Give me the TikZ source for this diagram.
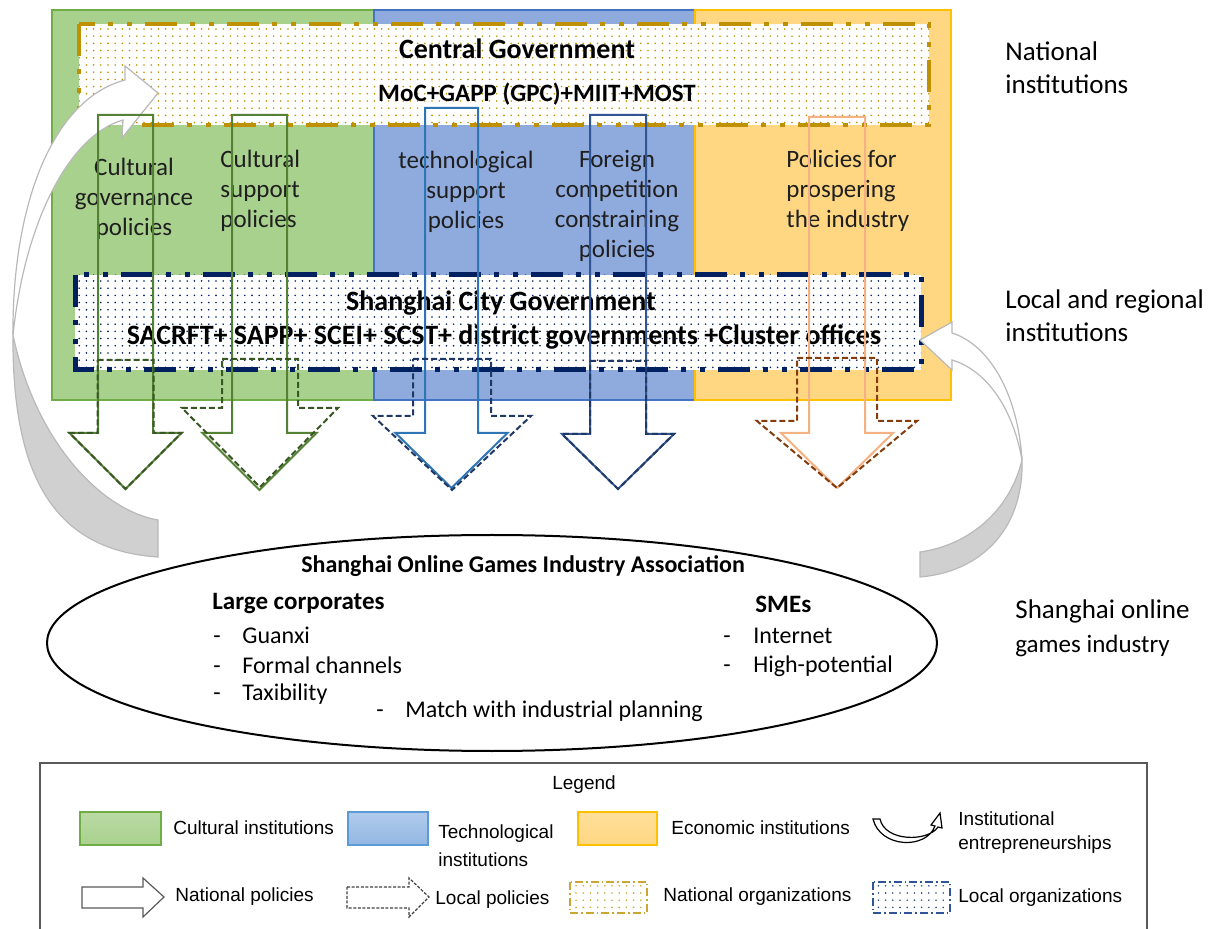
\documentclass[tikz,border=0pt]{standalone}
\usepackage{fontspec}
\setmainfont{Carlito}
\newfontfamily\legendfont{Liberation Sans}
\usetikzlibrary{shapes.geometric, patterns.meta}

\definecolor{cultfill}{RGB}{169,209,142}
\definecolor{cultline}{RGB}{112,173,71}
\definecolor{techfill}{RGB}{143,170,220}
\definecolor{techline}{RGB}{68,114,196}
\definecolor{econfill}{RGB}{255,215,130}
\definecolor{econline}{RGB}{255,192,0}
\definecolor{natgold}{RGB}{191,144,0}
\definecolor{locnavy}{RGB}{0,32,96}
\definecolor{arrgreen}{RGB}{84,130,53}
\definecolor{arrdkgreen}{RGB}{56,87,35}
\definecolor{arrblue}{RGB}{46,117,182}
\definecolor{arrnavy}{RGB}{47,85,151}
\definecolor{arrdknavy}{RGB}{32,56,100}
\definecolor{arrsalmon}{RGB}{244,177,131}
\definecolor{arrbrown}{RGB}{132,60,12}
\definecolor{entgrey}{RGB}{185,185,185}
\definecolor{entfill}{RGB}{208,208,208}
\definecolor{legbluetop}{RGB}{178,203,236}
\definecolor{legbluebot}{RGB}{146,183,226}
\definecolor{legblueline}{RGB}{91,155,213}

% block arrow pointing down: [style]{x}{top}{shaft half}{head y}{head half}{tip y}
\newcommand{\blockarrow}[7][]{%
  \draw[#1] (#2-#4,#3) -- (#2+#4,#3) -- (#2+#4,#5) -- (#2+#6,#5) -- (#2,#7)
    -- (#2-#6,#5) -- (#2-#4,#5) -- cycle;}

\begin{document}
\begin{tikzpicture}[x=0.5pt, y=-0.5pt,
    column/.style = {line width=0.6pt},
    govbox/.style = {line width=2pt, preaction={fill=white},
      dash pattern=on 16pt off 6.5pt on 2.5pt off 7pt on 2.5pt off 6.5pt},
    dotfill/.style = {pattern={Dots[radius=0.45pt, distance=3.6pt]}},
    title/.style = {font=\fontsize{14}{17}\selectfont\bfseries, inner sep=0},
    coltext/.style = {font=\fontsize{12.5}{15}\selectfont, text=black!88, inner sep=0},
    sidelabel/.style = {font=\fontsize{13.5}{16.5}\selectfont, align=left, anchor=west, inner sep=0},
    item/.style = {font=\fontsize{12}{14}\selectfont, anchor=west, inner sep=0},
    legtext/.style = {font=\legendfont\fontsize{9.5}{14}\selectfont, anchor=west, align=left, inner sep=0},
    natpolicy/.style = {line width=1pt},
    locpolicy/.style = {line width=1pt, dash pattern=on 3pt off 1.5pt},
    entarrow/.style = {draw=entgrey, line width=0.6pt}]
\useasboundingbox (0,0) rectangle (1220,929);

% Institutions columns
\draw[column, draw=cultline, fill=cultfill] (52,10) rectangle (374,400);
\draw[column, draw=techline, fill=techfill] (374,10) rectangle (695,400);
\draw[column, draw=econline, fill=econfill] (695,10) rectangle (951,400);

% Organizations
\draw[govbox, draw=natgold, dotfill, pattern color=natgold]
  (79,24) rectangle (929,125);
\draw[govbox, line width=2.5pt, draw=locnavy, dotfill, pattern color=locnavy]
  (75,275) rectangle (921,370);

% Institutional entrepreneurships
\draw[entarrow, fill=white] (13,335) .. controls (12,210) and (50,100) .. (125,80) -- (125,66)
  -- (158,93) -- (122,138) -- (123,120) .. controls (70,135) and (25,220) .. (13,335) -- cycle;
\draw[entarrow, fill=entfill] (13,335) .. controls (12,470) and (50,550) .. (158,557) -- (158,520)
  .. controls (100,510) and (35,440) .. (13,335) -- cycle;
\draw[entarrow, fill=white] (1022,460) .. controls (1018,395) and (990,345) .. (952,333) -- (952,322)
  -- (920,340) -- (952,370) -- (952,360) .. controls (985,370) and (1012,405) .. (1022,460) -- cycle;
\draw[entarrow, fill=entfill] (1022,460) .. controls (1024,530) and (980,572) .. (920,577) -- (920,552)
  .. controls (970,545) and (1010,510) .. (1022,460) -- cycle;

% Texts
\node[title] (central) at (517,49) {Central Government};
\node[title, font=\fontsize{12.5}{15}\selectfont\bfseries] (ministries) at (537,94) {MoC+GAPP (GPC)+MIIT+MOST};
\node[coltext, align=center] (cultgov) at (134,199) {Cultural\\governance\\policies};
\node[coltext, align=left, anchor=west] (cultsup) at (220,191) {Cultural\\support\\policies};
\node[coltext, align=center] (techsup) at (466,192) {technological\\support\\policies};
\node[coltext, align=center] (foreign) at (617,206) {Foreign\\competition\\constraining\\policies};
\node[coltext, align=left, anchor=west] (prosper) at (786,191) {Policies for\\prospering\\the industry};
\node[title] (city) at (501,303) {Shanghai City Government};
\node[title] (cityorgs) at (504,337) {SACRFT+ SAPP+ SCEI+ SCST+ district governments +Cluster offices};

\node[sidelabel] (national) at (1005,68) {National\\institutions};
\node[sidelabel] (local) at (1005,316) {Local and regional\\institutions};
\node[sidelabel] (industryA) at (1015,611) {Shanghai online};
\node[sidelabel, font=\fontsize{12.5}{15}\selectfont] (industryB) at (1015,646) {games industry};

% National policies
\blockarrow[natpolicy, draw=arrgreen]{125.5}{115}{27.5}{433}{56}{489}
\blockarrow[natpolicy, draw=arrgreen]{259.5}{115}{27.5}{433}{57}{490}
\blockarrow[natpolicy, draw=arrblue]{451.5}{108}{26.5}{433}{56}{488}
\blockarrow[natpolicy, draw=arrnavy]{618}{115}{28}{434}{56}{489}
\blockarrow[natpolicy, draw=arrsalmon]{837}{117}{28}{433}{56}{488}

% Local policies
\blockarrow[locpolicy, draw=arrdkgreen]{125.5}{360}{28}{433}{56}{489}
\blockarrow[locpolicy, draw=arrdkgreen]{260}{359}{38}{408}{78}{487}
\blockarrow[locpolicy, draw=arrdknavy]{452}{359}{39}{416}{79}{490}
\blockarrow[locpolicy, draw=arrdknavy]{618}{361}{28}{434}{56}{489}
\blockarrow[locpolicy, draw=arrbrown]{837}{358}{40}{421}{80}{488}

% Shanghai online games industry
\node[draw, ellipse, line width=1pt, minimum width=445pt, minimum height=108pt] (industry) at (492,643) {};
\node[title, font=\fontsize{12}{14}\selectfont\bfseries] (association) at (523,566) {Shanghai Online Games Industry Association};
\node[item, font=\fontsize{12.5}{14}\selectfont\bfseries] (large) at (212,604) {Large corporates};
\node[item] (guanxi) at (213,635) {\makebox[14.5pt][l]{-}Guanxi};
\node[item] (formal) at (213,665) {\makebox[14.5pt][l]{-}Formal channels};
\node[item] (tax) at (213,694) {\makebox[14.5pt][l]{-}Taxibility};
\node[item] (match) at (376,711) {\makebox[14.5pt][l]{-}Match with industrial planning};
\node[item, font=\fontsize{12.5}{14}\selectfont\bfseries] (smes) at (755,604) {SMEs};
\node[item] (internet) at (723,636) {\makebox[15pt][l]{-}Internet};
\node[item] (potential) at (723,666) {\makebox[15pt][l]{-}High-potential};

% Legend
\draw[line width=0.8pt, draw=black!65] (40,935) -- (40,763) -- (1147,763) -- (1147,935);
\node[legtext, anchor=center] (legend) at (584,785) {Legend};
\shade[top color=cultfill!80!white, bottom color=cultfill] (80,812) rectangle (161,845);
\draw[column, draw=cultline] (80,812) rectangle (161,845);
\node[legtext] (legcult) at (173,828) {Cultural institutions};
\shade[top color=legbluetop, bottom color=legbluebot] (348,812) rectangle (428,845);
\draw[column, draw=legblueline] (348,812) rectangle (428,845);
\node[legtext] (legtech) at (438,846) {Technological\\institutions};
\shade[top color=econfill!80!white, bottom color=econfill] (578,812) rectangle (657,845);
\draw[column, draw=econline] (578,812) rectangle (657,845);
\node[legtext] (legecon) at (671,828) {Economic institutions};
\draw[line width=0.6pt, fill=white] (873,819) .. controls (880,848) and (926,850) .. (935,826)
  -- (931,825) -- (940,813) -- (942,828) -- (938,827) .. controls (928,842) and (885,842) .. (880,819) -- cycle;
\node[legtext, font=\legendfont\fontsize{9.5}{12}\selectfont] (legent) at (958,833) {Institutional\\entrepreneurships};

\draw[natpolicy, line width=0.6pt, draw=black!65] (82,887) -- (143,887) -- (143,878) -- (164,897)
  -- (143,917) -- (143,908) -- (82,908) -- cycle;
\node[legtext] (legnat) at (175,897) {National policies};
\draw[line width=0.6pt, dash pattern=on 1.5pt off 0.8pt, draw=black!75] (347,887) -- (409,887) -- (409,878)
  -- (429,897) -- (409,917) -- (409,908) -- (347,908) -- cycle;
\node[legtext] (legloc) at (435,900) {Local policies};
\draw[line width=0.6pt, draw=natgold!80, dash pattern=on 4pt off 1.5pt on 0.8pt off 1.5pt,
  dotfill, pattern color=natgold!80] (570,882) rectangle (647,913);
\node[legtext] (legnatorg) at (663,897) {National organizations};
\draw[line width=0.6pt, draw=arrnavy, dash pattern=on 4pt off 1.5pt on 0.8pt off 1.5pt,
  dotfill, pattern color=locnavy!80] (873,882) rectangle (950,913);
\node[legtext] (leglocorg) at (958,898) {Local organizations};
\end{tikzpicture}
\end{document}
